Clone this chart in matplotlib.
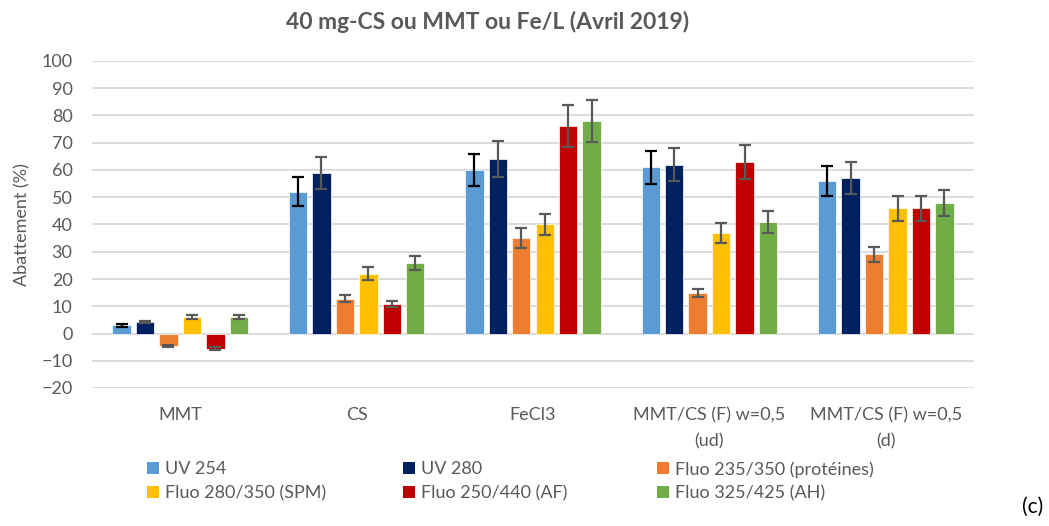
import numpy as np
import matplotlib
matplotlib.use('Agg')
import matplotlib.pyplot as plt
from matplotlib.patches import Patch

plt.rcParams['font.family'] = ['Lato', 'DejaVu Sans']

# données
categories = ['MMT', 'CS', 'FeCl3', 'MMT/CS (F) w=0,5\n(ud)', 'MMT/CS (F) w=0,5\n(d)']
series = ['UV 254', 'UV 280', 'Fluo 235/350 (protéines)',
          'Fluo 280/350 (SPM)', 'Fluo 250/440 (AF)', 'Fluo 325/425 (AH)']
uv254 = [3, 52, 60, 61, 56]
uv280 = [4.2, 59, 64, 62, 57]
f235 = [-4.6, 12.8, 35, 15, 29]
f280 = [6, 22, 40, 37, 46]
f250 = [-5.6, 11, 76, 63, 46]
f325 = [6, 26, 78, 41, 48]
err_uv254 = [0.6, 5.3, 6.0, 6.1, 5.6]
err_uv280 = [0.5, 5.9, 6.5, 6.2, 5.8]
err_f235 = [0.5, 1.4, 3.6, 1.5, 2.9]
err_f280 = [0.8, 2.3, 4.0, 3.7, 4.6]
err_f250 = [0.5, 1.1, 7.7, 6.3, 4.6]
err_f325 = [0.8, 2.6, 7.8, 4.1, 4.8]

values = [uv254, uv280, f235, f280, f250, f325]
errors = [err_uv254, err_uv280, err_f235, err_f280, err_f250, err_f325]
colors = ['#5B9BD5', '#002060', '#ED7D31', '#FFC000', '#C00000', '#70AD47']
err_colors = ['black'] + ['#595959'] * 5

grey = '#595959'

fig = plt.figure(figsize=(10.49, 5.26), dpi=100)
ax = fig.add_axes([92/1049, 1-388/526, 882/1049, 327/526])

x = np.arange(len(categories))
pitch = 0.133
width = 0.104
for i, (v, e) in enumerate(zip(values, errors)):
    pos = x + (i - 2.5) * pitch
    ax.bar(pos, v, width, color=colors[i], edgecolor='white', linewidth=0.5, zorder=2)
    ax.errorbar(pos, v, yerr=e, fmt='none', ecolor=err_colors[i],
                elinewidth=1.6, capsize=4.3, capthick=1.6, zorder=3)

ax.set_xlim(-0.5, len(categories) - 0.5)
ax.set_ylim(-20, 100)
ax.set_yticks(np.arange(-20, 101, 10))
ax.set_xticks(x)
ax.set_xticklabels(categories, linespacing=1.75)
ax.grid(axis='y', color='#D9D9D9', linewidth=1.3, zorder=0)
ax.set_axisbelow(True)
for s in ax.spines.values():
    s.set_visible(False)
ax.tick_params(axis='y', length=0, pad=14, labelsize=13, labelcolor=grey)
ax.tick_params(axis='x', length=0, pad=14, labelsize=13, labelcolor=grey)
ax.set_ylabel('Abattement (%)', fontsize=13, color=grey, labelpad=8)

fig.text(488/1049, 1-22/526, '40 mg-CS ou MMT ou Fe/L (Avril 2019)',
         ha='center', va='center', fontsize=16.5, fontweight='bold', color=grey)

# légende : 3 colonnes, 2 lignes
handles = [Patch(facecolor=c, edgecolor='none') for c in colors]
col_x = [147, 403, 657]
for k in range(3):
    idx = [k, k + 3]
    leg = fig.legend([handles[j] for j in idx], [series[j] for j in idx],
                     loc='upper left', bbox_to_anchor=(col_x[k]/1049, 1-461/526),
                     frameon=False, fontsize=13, borderpad=0, borderaxespad=0,
                     handlelength=0.65, handleheight=0.65, handletextpad=0.35,
                     labelspacing=0.45)
    for t in leg.get_texts():
        t.set_color(grey)

fig.text(1033/1049, 1-507/526, '(c)', ha='center', va='center', fontsize=15, color='black')

fig.savefig('out.png', dpi=100)
